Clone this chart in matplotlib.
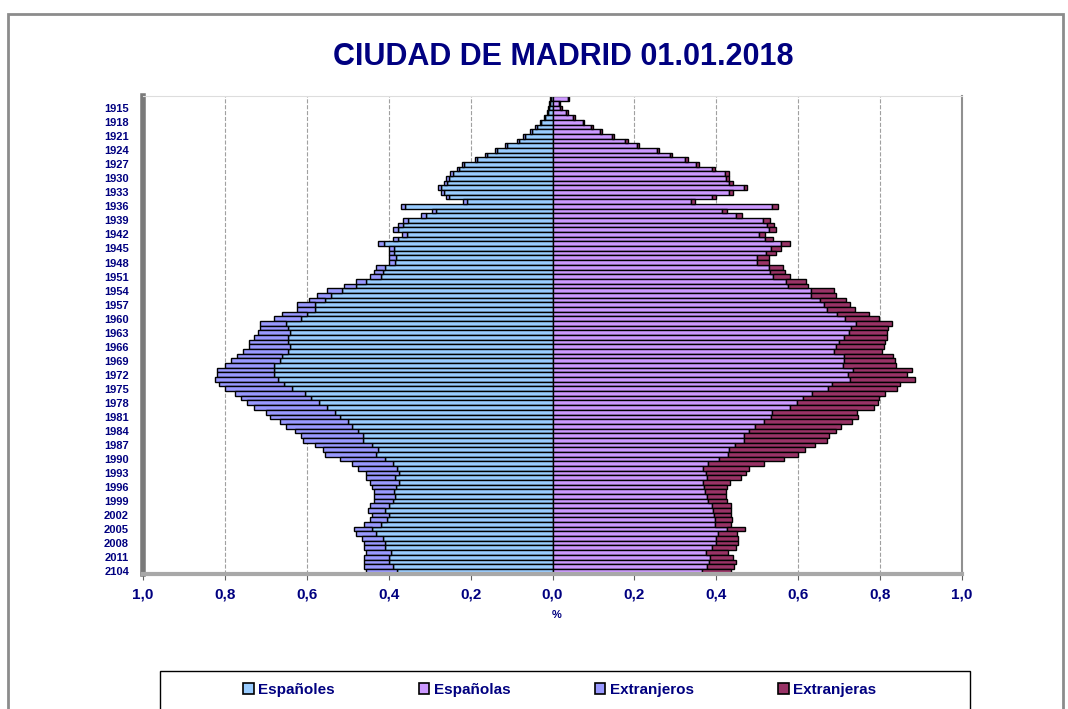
import numpy as np
import matplotlib
matplotlib.use('Agg')
import matplotlib.pyplot as plt
from matplotlib.patches import Patch, Rectangle
from matplotlib.ticker import FuncFormatter

plt.rcParams['font.family'] = ['Liberation Sans', 'DejaVu Sans']

# birth years, top (1913) to bottom (2014)
years = np.arange(1913, 2015)

# % of total population
espanoles = [.004, .006, .008, .012, .019, .027, .038, .051, .067, .083,
             .111, .135, .160, .185, .216, .228, .244, .252, .258, .272,
             .264, .252, .209, .360, .285, .309, .353, .365, .378, .356,
             .377, .412, .387, .386, .383, .385, .410, .415, .420, .455,
             .480, .515, .540, .555, .580, .580, .600, .615, .650, .645,
             .640, .645, .645, .640, .645, .660, .665, .680, .680, .680,
             .670, .655, .635, .605, .590, .570, .550, .530, .520, .500,
             .490, .475, .463, .463, .440, .425, .430, .410, .390, .380,
             .375, .385, .375, .383, .387, .385, .390, .400, .410, .400,
             .405, .420, .440, .430, .415, .410, .410, .395, .400, .400,
             .390, .380]
extranjeros = [.002, .002, .002, .002, .003, .003, .004, .004, .004, .004,
               .005, .005, .005, .005, .006, .006, .006, .007, .007, .008,
               .008, .008, .009, .010, .010, .011, .012, .012, .012, .012,
               .013, .013, .013, .014, .017, .015, .020, .020, .025, .025,
               .030, .035, .035, .040, .045, .045, .060, .065, .065, .070,
               .080, .085, .095, .100, .110, .110, .120, .120, .140, .140,
               .155, .160, .165, .170, .170, .175, .180, .170, .170, .165,
               .160, .155, .152, .147, .140, .135, .125, .110, .100, .095,
               .080, .070, .070, .057, .048, .050, .045, .045, .040, .040,
               .040, .040, .045, .050, .050, .050, .050, .060, .060, .060,
               .070, .075]
espanolas = [.037, .015, .019, .034, .051, .074, .095, .115, .144, .178,
             .206, .254, .286, .323, .351, .390, .422, .423, .431, .467,
             .432, .390, .338, .537, .415, .447, .515, .523, .528, .503,
             .520, .557, .534, .521, .499, .499, .529, .532, .539, .570,
             .576, .630, .632, .652, .664, .669, .695, .715, .740, .730,
             .723, .711, .700, .693, .687, .712, .712, .710, .734, .722,
             .726, .683, .673, .634, .611, .597, .579, .535, .534, .516,
             .494, .479, .468, .468, .445, .431, .429, .407, .380, .368,
             .374, .376, .368, .370, .372, .378, .380, .390, .392, .394,
             .397, .397, .426, .403, .399, .399, .390, .374, .385, .382,
             .376, .364]
extranjeras = [.004, .003, .003, .003, .004, .004, .005, .005, .005, .006,
               .006, .006, .006, .007, .007, .007, .008, .008, .009, .009,
               .009, .010, .010, .013, .012, .015, .015, .017, .018, .017,
               .018, .023, .024, .025, .030, .030, .033, .036, .041, .049,
               .049, .057, .059, .064, .063, .069, .078, .083, .088, .090,
               .093, .105, .112, .116, .117, .120, .124, .128, .143, .143,
               .159, .166, .167, .178, .186, .197, .207, .209, .212, .216,
               .210, .214, .206, .202, .197, .186, .170, .159, .137, .111,
               .098, .084, .066, .057, .051, .045, .045, .045, .043, .041,
               .042, .038, .044, .047, .053, .053, .058, .055, .056, .066,
               .067, .071]

tick_years = list(range(1915, 2014, 3)) + [2014]
tick_labels = [str(y) for y in tick_years[:-1]] + ['2104']

names = ['Españoles', 'Españolas', 'Extranjeros', 'Extranjeras']
colors = ['#99CCFF', '#CC99FF', '#9999FF', '#993366']
navy = '#000080'

esp_m = np.array(espanoles)
ext_m = np.array(extranjeros)
esp_f = np.array(espanolas)
ext_f = np.array(extranjeras)

fig = plt.figure(figsize=(10.68, 7.09), dpi=100)
ax = fig.add_axes([0.1339, 0.1904, 0.7669, 0.6742])

kw = dict(height=1.0, edgecolor='black', linewidth=1.0)
ax.barh(years, -esp_m, color=colors[0], **kw)
ax.barh(years, -ext_m, left=-esp_m, color=colors[2], **kw)
ax.barh(years, esp_f, color=colors[1], **kw)
ax.barh(years, ext_f, left=esp_f, color=colors[3], **kw)

ax.set_xlim(-1, 1)
ax.set_ylim(2014.6, 1912.4)
ax.set_xticks(np.round(np.arange(-1, 1.01, 0.2), 1))
ax.xaxis.set_major_formatter(FuncFormatter(lambda v, p: ('%.1f' % abs(v)).replace('.', ',')))
ax.set_yticks(tick_years)
ax.set_yticklabels(tick_labels)

ax.grid(axis='x', linestyle='--', color='#a0a0a0', linewidth=0.8)
ax.set_axisbelow(True)

for lab in ax.get_xticklabels():
    lab.set_fontweight('bold')
for lab in ax.get_yticklabels():
    lab.set_fontweight('bold')
ax.tick_params(axis='x', labelsize=11, labelcolor=navy, length=4, pad=6, color='#606060')
ax.tick_params(axis='y', labelsize=8, labelcolor=navy, length=0, pad=10)

ax.spines['left'].set_color('#7a7a7a')
ax.spines['left'].set_linewidth(4)
ax.spines['bottom'].set_color('#a8a8a8')
ax.spines['bottom'].set_linewidth(3)
ax.spines['top'].set_color('#dddddd')
ax.spines['right'].set_color('#909090')
ax.spines['right'].set_linewidth(1.5)

fig.text(0.527, 0.920, 'CIUDAD DE MADRID 01.01.2018', ha='center', va='center',
         fontsize=22, fontweight='bold', color=navy)
fig.text(557 / 1068, 1 - 615 / 709, '%', ha='center', va='center',
         fontsize=8, fontweight='bold', color=navy)

handles = [Patch(facecolor=c, edgecolor='black', linewidth=1.2) for c in colors]
fig.legend(handles, names, ncol=4,
           loc='center', bbox_to_anchor=(0.524, 1 - 690 / 709), frameon=False,
           prop={'weight': 'bold', 'size': 11}, labelcolor=navy,
           handlelength=0.7, handleheight=0.7, handletextpad=0.3, columnspacing=5.5)

fig.add_artist(Rectangle((160 / 1068, -0.05), 810 / 1068, 0.05 + 1 - 671 / 709,
                         transform=fig.transFigure, fill=False, edgecolor='black', linewidth=1))
fig.add_artist(Rectangle((8 / 1068, -0.1), (1063 - 8) / 1068, 0.1 + 1 - 14 / 709,
                         transform=fig.transFigure, fill=False, edgecolor='#8c8c8c', linewidth=2))

fig.savefig('out.png', dpi=100)
